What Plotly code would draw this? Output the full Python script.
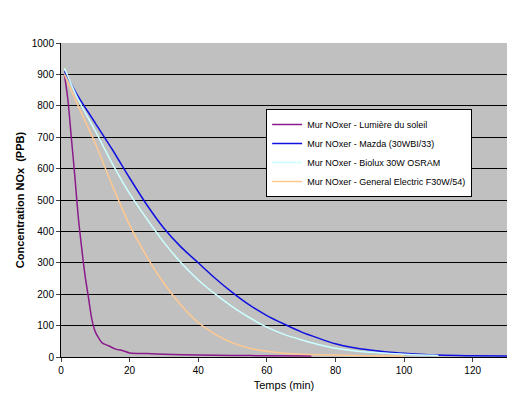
import plotly.graph_objects as go

# Mur NOxer - Lumière du soleil
sun_t = [1, 2, 3, 4, 5, 6, 7, 8, 9, 10, 11, 12, 14, 16, 18, 20, 25, 30, 40, 50, 60, 73]
sun_c = [900, 820, 700, 580, 450, 350, 260, 190, 120, 80, 60, 45, 35, 25, 20, 13, 11, 9, 6, 5, 4, 3]

# Mazda (30WBI/33)
mazda_t = [1, 5, 10, 15, 20, 25, 30, 35, 40, 45, 50, 55, 60, 65, 70, 75, 80, 85, 90, 95, 100, 110, 120, 130]
mazda_c = [910, 830, 745, 660, 570, 485, 410, 350, 300, 250, 205, 165, 132, 105, 80, 60, 42, 30, 22, 16, 12, 6, 4, 3]

# Biolux 30W OSRAM
biolux_t = [1, 5, 10, 15, 20, 25, 30, 35, 40, 45, 50, 55, 60, 65, 70, 75, 80, 90, 100, 110]
biolux_c = [920, 820, 720, 615, 520, 440, 365, 300, 245, 200, 160, 125, 95, 72, 55, 40, 28, 15, 9, 5]

# General Electric F30W/54
ge_t = [1, 5, 10, 15, 20, 25, 30, 35, 40, 45, 50, 55, 60, 65, 70, 80, 90, 100]
ge_c = [900, 800, 680, 545, 420, 320, 235, 165, 110, 72, 45, 28, 18, 12, 9, 6, 4, 3]

series = [
    ("Mur NOxer - Lumière du soleil", sun_t, sun_c, "#8B1A8B"),
    ("Mur NOxer - Mazda (30WBI/33)", mazda_t, mazda_c, "#1010E0"),
    ("Mur NOxer - Biolux 30W OSRAM", biolux_t, biolux_c, "#CCFFFF"),
    ("Mur NOxer - General Electric F30W/54)", ge_t, ge_c, "#FFC890"),
]

fig = go.Figure()
for name, t, c, col in series:
    fig.add_trace(go.Scatter(x=t, y=c, name=name, mode="lines",
                             line=dict(color=col, width=1.5, shape="spline", smoothing=0.8)))

fig.update_layout(
    width=521, height=411,
    margin=dict(l=42, r=22, t=35, b=62),
    paper_bgcolor="white", plot_bgcolor="#C0C0C0",
    font=dict(family="Arial, Liberation Sans", size=10, color="black"),
    legend=dict(x=0.46, y=0.79, xanchor="left", yanchor="top",
                bgcolor="white", bordercolor="black", borderwidth=1,
                font=dict(size=9), tracegroupgap=0),
    showlegend=True,
)
fig.update_xaxes(range=[0, 130], dtick=20, showgrid=False, zeroline=False,
                 showline=True, linecolor="black", ticks="outside", ticklen=4,
                 title=dict(text="Temps (min)", standoff=6, font=dict(size=11)))
fig.update_yaxes(range=[0, 1000], dtick=100, showgrid=True, gridcolor="black",
                 gridwidth=1, zeroline=False, showline=True, linecolor="black",
                 ticks="outside", ticklen=4,
                 title=dict(text="<b>Concentration NOx  (PPB)</b>", standoff=4, font=dict(size=11)))

fig.write_html("out.html")
